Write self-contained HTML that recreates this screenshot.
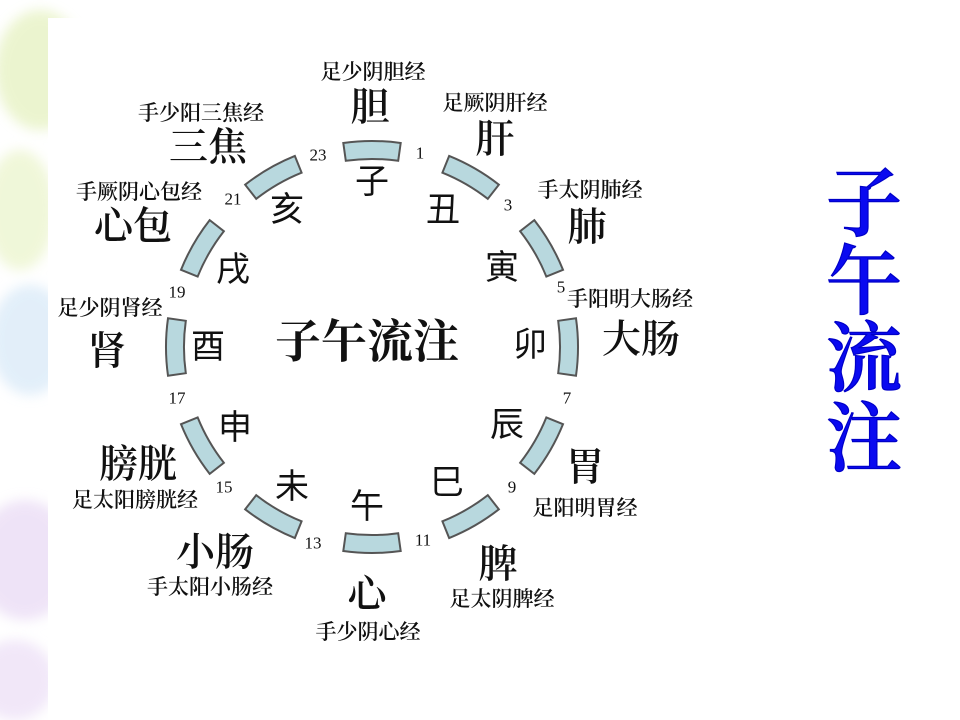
<!DOCTYPE html>
<html><head><meta charset="utf-8"><style>
html,body{margin:0;padding:0;width:960px;height:720px;overflow:hidden;background:#fff;}
svg{display:block}
text{font-family:"Liberation Serif","Noto Serif CJK SC",serif;fill:#111;text-anchor:middle;dominant-baseline:central}
.b{font-size:34px;font-family:"Liberation Sans","Noto Sans CJK SC",sans-serif}
.o{font-size:39px;font-weight:600}
.m{font-size:21px;font-weight:600}
.n{font-size:17px}
</style></head><body>
<svg width="960" height="720" viewBox="0 0 960 720">
<defs>
<filter id="bl"><feGaussianBlur stdDeviation="6"/></filter>
</defs>
<g filter="url(#bl)" opacity="0.6">
<ellipse cx="40" cy="70" rx="45" ry="60" fill="#dfeeb0"/>
<ellipse cx="20" cy="210" rx="35" ry="60" fill="#e6f2c0"/>
<ellipse cx="30" cy="340" rx="40" ry="55" fill="#cfe4f6"/>
<ellipse cx="25" cy="560" rx="50" ry="60" fill="#e4d2f2"/>
<ellipse cx="15" cy="680" rx="40" ry="40" fill="#e8d8f4"/>
</g>
<rect x="48" y="18" width="912" height="702" fill="#fff"/>
<g fill="#b8d8de" stroke="#555" stroke-width="2">
<path id="s" d="M343.3,143 A206,206 0 0 1 400.7,143 L398.2,160.8 A188,188 0 0 0 345.8,160.8 Z"/>
<use href="#s" transform="rotate(30 372 347)"/>
<use href="#s" transform="rotate(60 372 347)"/>
<use href="#s" transform="rotate(90 372 347)"/>
<use href="#s" transform="rotate(120 372 347)"/>
<use href="#s" transform="rotate(150 372 347)"/>
<use href="#s" transform="rotate(180 372 347)"/>
<use href="#s" transform="rotate(210 372 347)"/>
<use href="#s" transform="rotate(240 372 347)"/>
<use href="#s" transform="rotate(270 372 347)"/>
<use href="#s" transform="rotate(300 372 347)"/>
<use href="#s" transform="rotate(330 372 347)"/>
</g>
<text class="b" x="372" y="182">子</text>
<text class="b" x="443" y="210">丑</text>
<text class="b" x="502" y="268">寅</text>
<text class="b" x="530" y="345">卯</text>
<text class="b" x="507" y="425">辰</text>
<text class="b" x="447" y="483">巳</text>
<text class="b" x="367" y="507">午</text>
<text class="b" x="292" y="487">未</text>
<text class="b" x="235" y="428">申</text>
<text class="b" x="208" y="347">酉</text>
<text class="b" x="233" y="270">戌</text>
<text class="b" x="287" y="210">亥</text>
<text x="367" y="342" style="font-size:46px;font-weight:bold">子午流注</text>
<text class="o" x="370" y="108">胆</text>
<text class="o" x="495" y="140">肝</text>
<text class="o" x="587" y="228">肺</text>
<text class="o" x="641" y="340">大肠</text>
<text class="o" x="585" y="468">胃</text>
<text class="o" x="498" y="565">脾</text>
<text class="o" x="367" y="595">心</text>
<text class="o" x="215" y="553">小肠</text>
<text class="o" x="138" y="465">膀胱</text>
<text class="o" x="107" y="352">肾</text>
<text class="o" x="133" y="227">心包</text>
<text class="o" x="208" y="148">三焦</text>
<text class="m" x="373" y="72">足少阴胆经</text>
<text class="m" x="495" y="103">足厥阴肝经</text>
<text class="m" x="590" y="190">手太阴肺经</text>
<text class="m" x="630" y="299">手阳明大肠经</text>
<text class="m" x="585" y="508">足阳明胃经</text>
<text class="m" x="502" y="599">足太阴脾经</text>
<text class="m" x="368" y="632">手少阴心经</text>
<text class="m" x="210" y="587">手太阳小肠经</text>
<text class="m" x="135" y="500">足太阳膀胱经</text>
<text class="m" x="110" y="308">足少阴肾经</text>
<text class="m" x="139" y="192">手厥阴心包经</text>
<text class="m" x="201" y="113">手少阳三焦经</text>
<text class="n" x="318" y="155">23</text>
<text class="n" x="420" y="153">1</text>
<text class="n" x="508" y="205">3</text>
<text class="n" x="561" y="287">5</text>
<text class="n" x="567" y="398">7</text>
<text class="n" x="512" y="487">9</text>
<text class="n" x="423" y="540">11</text>
<text class="n" x="313" y="543">13</text>
<text class="n" x="224" y="487">15</text>
<text class="n" x="177" y="398">17</text>
<text class="n" x="177" y="292">19</text>
<text class="n" x="233" y="199">21</text>
<g stroke="#0000c8" stroke-width="1.2">
<text x="864" y="205" style="fill:#0a0af0;font-size:76px;font-weight:600">子</text>
<text x="864" y="283" style="fill:#0a0af0;font-size:76px;font-weight:600">午</text>
<text x="864" y="360" style="fill:#0a0af0;font-size:76px;font-weight:600">流</text>
<text x="864" y="440" style="fill:#0a0af0;font-size:76px;font-weight:600">注</text>
</g>
</svg>
</body></html>
